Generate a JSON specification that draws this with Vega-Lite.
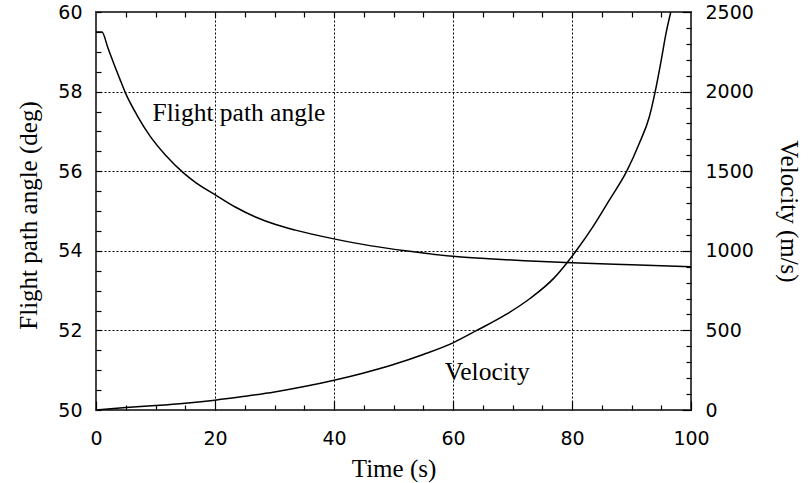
{
  "$schema": "https://vega.github.io/schema/vega-lite/v6.json",
  "width": 595,
  "height": 398,
  "autosize": {"type": "none"},
  "padding": {"left": 96, "top": 12, "right": 118, "bottom": 73},
  "background": "white",
  "config": {
    "view": {"stroke": "#444", "strokeWidth": 2},
    "axis": {
      "domain": false,
      "labelFont": "DejaVu Sans",
      "labelFontSize": 19,
      "labelColor": "black",
      "labelOverlap": false,
      "labelFlush": false,
      "titleFont": "Liberation Serif",
      "titleFontSize": 25,
      "titleFontWeight": "normal",
      "titleColor": "black",
      "tickColor": "black",
      "tickSize": -5,
      "tickWidth": 1.2,
      "gridColor": "black",
      "gridDash": [2, 2],
      "gridWidth": 1
    }
  },
  "datasets": {
    "fpa": [
      {"time": 0, "angle": 59.5},
      {"time": 1, "angle": 59.5},
      {"time": 2, "angle": 59.1},
      {"time": 3, "angle": 58.7},
      {"time": 4, "angle": 58.32},
      {"time": 5, "angle": 57.95},
      {"time": 7, "angle": 57.38},
      {"time": 9, "angle": 56.9},
      {"time": 11.7, "angle": 56.4},
      {"time": 14.6, "angle": 55.97},
      {"time": 16.7, "angle": 55.72},
      {"time": 20, "angle": 55.41},
      {"time": 23.4, "angle": 55.1},
      {"time": 26.8, "angle": 54.85},
      {"time": 30.2, "angle": 54.66},
      {"time": 33.5, "angle": 54.52},
      {"time": 40, "angle": 54.3},
      {"time": 46, "angle": 54.13},
      {"time": 52, "angle": 54.0},
      {"time": 60, "angle": 53.86},
      {"time": 66, "angle": 53.8},
      {"time": 72, "angle": 53.75},
      {"time": 80, "angle": 53.7},
      {"time": 90, "angle": 53.65},
      {"time": 100, "angle": 53.6}
    ],
    "vel": [
      {"time": 0, "velocity": 0},
      {"time": 5, "velocity": 15},
      {"time": 10, "velocity": 28},
      {"time": 15, "velocity": 43},
      {"time": 20, "velocity": 62},
      {"time": 25, "velocity": 86},
      {"time": 30, "velocity": 113},
      {"time": 35, "velocity": 147},
      {"time": 40, "velocity": 187},
      {"time": 45, "velocity": 233},
      {"time": 50, "velocity": 286},
      {"time": 55, "velocity": 349},
      {"time": 60, "velocity": 422},
      {"time": 64, "velocity": 500},
      {"time": 69, "velocity": 602},
      {"time": 73, "velocity": 702},
      {"time": 77, "velocity": 830},
      {"time": 79.2, "velocity": 927},
      {"time": 80.7, "velocity": 1000},
      {"time": 83.5, "velocity": 1150},
      {"time": 86.3, "velocity": 1320},
      {"time": 89.2, "velocity": 1500},
      {"time": 91.3, "velocity": 1674},
      {"time": 93, "velocity": 1842},
      {"time": 94, "velocity": 2003},
      {"time": 95, "velocity": 2198},
      {"time": 95.8, "velocity": 2366},
      {"time": 96.6, "velocity": 2500}
    ],
    "labels": [{"name": "annotation"}]
  },
  "layer": [
    {
      "layer": [
        {
          "data": {"name": "fpa"},
          "mark": {"type": "line", "color": "black", "strokeWidth": 1.5, "interpolate": "monotone"},
          "encoding": {
            "x": {
              "field": "time", "type": "quantitative",
              "scale": {"domain": [0, 100], "nice": false},
              "axis": {
                "orient": "bottom",
                "title": "Time (s)",
                "values": [0, 20, 40, 60, 80, 100],
                "tickSize": -9,
                "labelPadding": 28,
                "grid": true,
                "gridOpacity": {"condition": {"test": "datum.value > 0 && datum.value < 100", "value": 1}, "value": 0},
                "titleY": 58,
                "titleBaseline": "middle"
              }
            },
            "y": {
              "field": "angle", "type": "quantitative",
              "scale": {"domain": [50, 60], "nice": false, "zero": false},
              "axis": {
                "orient": "left",
                "title": "Flight path angle (deg)",
                "values": [50, 52, 54, 56, 58, 60],
                "labelPadding": 19,
                "grid": true,
                "gridOpacity": {"condition": {"test": "datum.value > 50 && datum.value < 60", "value": 1}, "value": 0},
                "titleX": -68,
                "titleY": 203,
                "titleAngle": -90,
                "titleAlign": "center",
                "titleBaseline": "middle"
              }
            }
          }
        },
        {
          "data": {"name": "labels"},
          "mark": {"type": "text", "text": "Flight path angle", "font": "Liberation Serif", "fontSize": 25.5, "align": "left", "baseline": "middle", "color": "black"},
          "encoding": {
            "x": {
              "datum": 9.5, "type": "quantitative",
              "axis": {
                "orient": "bottom",
                "title": null,
                "labels": false,
                "grid": false,
                "values": [5,10,15,25,30,35,45,50,55,65,70,75,85,90,95]
              }
            },
            "y": {
              "datum": 57.47, "type": "quantitative",
              "axis": {
                "orient": "left",
                "title": null,
                "labels": false,
                "grid": false,
                "values": [50.5,51,51.5,52.5,53,53.5,54.5,55,55.5,56.5,57,57.5,58.5,59,59.5]
              }
            }
          }
        }
      ],
      "resolve": {"axis": {"x": "independent", "y": "independent"}}
    },
    {
      "layer": [
        {
          "data": {"name": "vel"},
          "mark": {"type": "line", "color": "black", "strokeWidth": 1.5, "clip": true, "interpolate": "monotone"},
          "encoding": {
            "x": {
              "field": "time", "type": "quantitative",
              "scale": {"domain": [0, 100], "nice": false},
              "axis": {
                "orient": "top",
                "title": null,
                "labels": false,
                "grid": false,
                "values": [5,10,15,20,25,30,35,40,45,50,55,60,65,70,75,80,85,90,95]
              }
            },
            "y": {
              "field": "velocity", "type": "quantitative",
              "scale": {"domain": [0, 2500], "nice": false},
              "axis": {
                "orient": "right",
                "title": "Velocity (m/s)",
                "format": "d",
                "values": [0, 500, 1000, 1500, 2000, 2500],
                "tickSize": -9,
                "labelPadding": 23,
                "grid": false,
                "titlePadding": 22,
                "titleY": 199,
                "titleAngle": 90,
                "titleAlign": "center"
              }
            }
          }
        },
        {
          "data": {"name": "labels"},
          "mark": {"type": "text", "text": "Velocity", "font": "Liberation Serif", "fontSize": 25.5, "align": "left", "baseline": "middle", "color": "black"},
          "encoding": {
            "x": {"datum": 58.6, "type": "quantitative", "axis": null},
            "y": {
              "datum": 236, "type": "quantitative",
              "axis": {
                "orient": "right",
                "title": null,
                "labels": false,
                "grid": false,
                "values": [100,200,300,400,600,700,800,900,1100,1200,1300,1400,1600,1700,1800,1900,2100,2200,2300,2400]
              }
            }
          }
        }
      ],
      "resolve": {"axis": {"x": "independent", "y": "independent"}}
    }
  ],
  "resolve": {"scale": {"y": "independent"}, "axis": {"x": "independent", "y": "independent"}}
}
